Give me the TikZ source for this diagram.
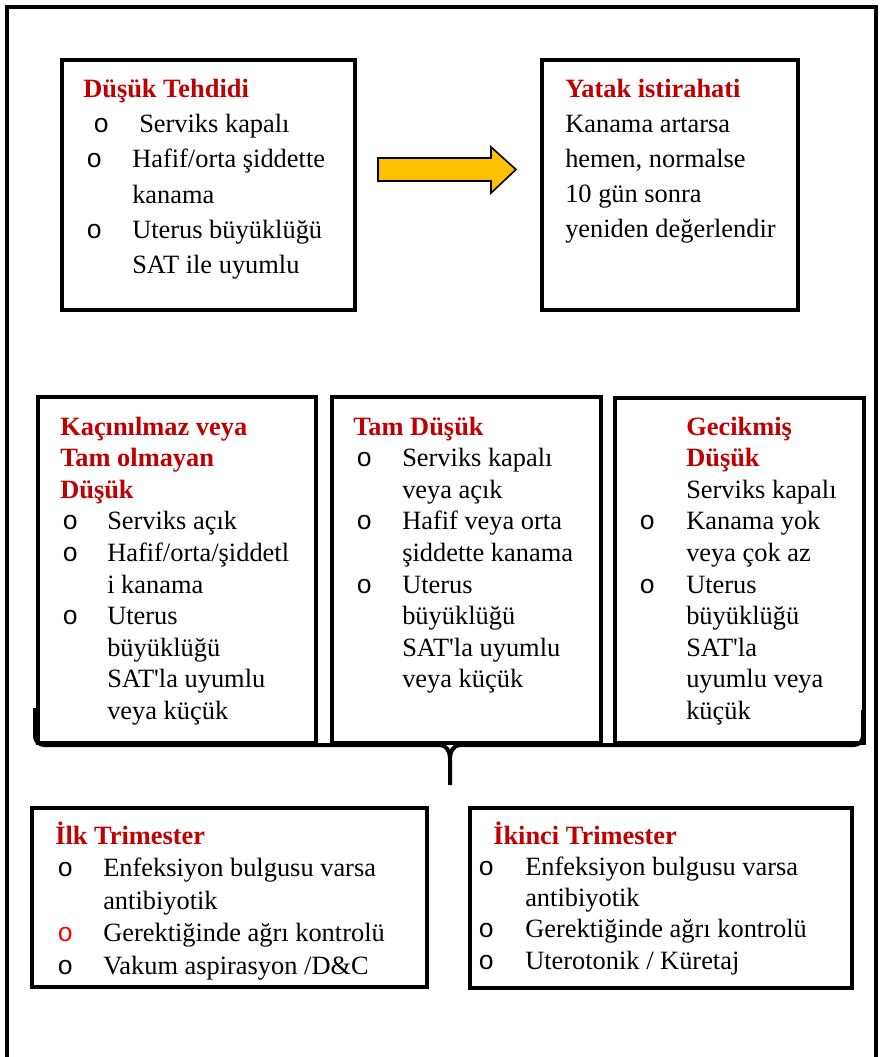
\documentclass[tikz,border=0pt]{standalone}
\usepackage{fontspec}
\setmainfont{Liberation Serif}
\newfontfamily\bulfont{Liberation Mono}
\usetikzlibrary{fit}
\definecolor{hdred}{HTML}{C00000}
\definecolor{arrowgold}{HTML}{FFC000}
% one drawing unit
\newdimen\px \px=0.75pt
% bullet offset and text offset inside a list
\newdimen\bo \newdimen\bx
\newcommand\hd[2][0]{\hspace*{#1\px}{\bfseries\color{hdred}#2}}
\newcommand\bi[2][black]{\makebox[\bx][l]{\hspace*{\bo}\textcolor{#1}{\bulfont o}}#2}
\newcommand\bix[3]{\makebox[#2\px][l]{\hspace*{#1\px}{\bulfont o}}#3}
\newcommand\ct[1]{\hspace*{\bx}#1}
\newcommand\boxtext[4]{\fontsize{19.8pt}{#1pt}\selectfont
  \bo=#2\px\relax \bx=#3\px\relax
  \begin{tabular}[t]{@{}l@{}}#4\end{tabular}}

\begin{document}
\begin{tikzpicture}[x=0.75pt,y=-0.75pt,
  box/.style={draw, line width=2.6pt, inner sep=0pt},
  txt/.style={anchor=base west, inner sep=0pt},
  frame/.style={line width=3pt},
  brace/.style={line width=3pt, line cap=butt},
  blockarrow/.style={fill=arrowgold, draw=black, line width=1.2pt, line join=miter}]

\useasboundingbox[fill=white] (0,0) rectangle (882,1057);

% outer frame, open at the bottom
\draw[frame] (6.5,1065) -- (6.5,7) -- (876,7) -- (876,1065);

% top row
\node[box, fit={(62,60) (355,310)}] (threat) {};
\node[box, fit={(542,60) (798,310)}] (rest) {};

\node[txt] (threattxt) at (83,97) {\boxtext{26.5}{3}{49}{%
  \hd{Düşük Tehdidi}\\
  \bix{10}{56}{Serviks kapalı}\\
  \bi{Hafif/orta şiddette}\\
  \ct{kanama}\\
  \bi{Uterus büyüklüğü}\\
  \ct{SAT ile uyumlu}}};

\node[txt] (resttxt) at (565,97) {\boxtext{26.3}{0}{0}{%
  \hd{Yatak istirahati}\\
  Kanama artarsa\\
  hemen, normalse\\
  10 gün sonra\\
  yeniden değerlendir}};

% block arrow between the top boxes
\draw[blockarrow] (378,158) -- (491,158) -- (491,147) -- (516,169.5)
  -- (491,193) -- (491,181) -- (378,181) -- cycle;

% middle row
\node[box, fit={(38,397) (316,743)}] (inev) {};
\node[box, fit={(332,397) (601,743)}] (compl) {};
\node[box, fit={(615,398) (864,743)}] (missed) {};

\node[txt] (inevtxt) at (60,435) {\boxtext{23.7}{2}{47}{%
  \hd{Kaçınılmaz veya}\\
  \hd{Tam olmayan}\\
  \hd{Düşük}\\
  \bi{Serviks açık}\\
  \bi{Hafif/orta/şiddetl}\\
  \ct{i kanama}\\
  \bi{Uterus}\\
  \ct{büyüklüğü}\\
  \ct{SAT\textquotesingle la uyumlu}\\
  \ct{veya küçük}}};

\node[txt] (compltxt) at (353,435) {\boxtext{23.7}{3}{49}{%
  \hd{Tam Düşük}\\
  \bi{Serviks kapalı}\\
  \ct{veya açık}\\
  \bi{Hafif veya orta}\\
  \ct{şiddette kanama}\\
  \bi{Uterus}\\
  \ct{büyüklüğü}\\
  \ct{SAT\textquotesingle la uyumlu}\\
  \ct{veya küçük}}};

\node[txt] (missedtxt) at (639,435) {\boxtext{23.7}{0}{47}{%
  \hd[47]{Gecikmiş}\\
  \hd[47]{Düşük}\\
  \ct{Serviks kapalı}\\
  \bi{Kanama yok}\\
  \ct{veya çok az}\\
  \bi{Uterus}\\
  \ct{büyüklüğü}\\
  \ct{SAT\textquotesingle la}\\
  \ct{uyumlu veya}\\
  \ct{küçük}}};

% brace gathering the middle row
\coordinate (tip) at (450,785);
\draw[brace] (35,708) -- (35,736) to[out=-90,in=180] (44,745) -- (440,745)
  to[out=0,in=90] (450,758) -- (tip);
\draw[brace] (450,758) to[out=90,in=180] (460,745) -- (854,745)
  to[out=0,in=-90] (863,736) -- (863,710);

% bottom row
\node[box, fit={(32,808) (427,987)}] (first) {};
\node[box, fit={(470,808) (852,988)}] (second) {};

\node[txt] (firsttxt) at (55,844) {\boxtext{24.4}{2}{48}{%
  \hd{İlk Trimester}\\
  \bi{Enfeksiyon bulgusu varsa}\\
  \ct{antibiyotik}\\
  \bi[red]{Gerektiğinde ağrı kontrolü}\\
  \bi{Vakum aspirasyon /D\&C}}};

\node[txt] (secondtxt) at (478,844) {\boxtext{23.45}{0}{47}{%
  \hd[15]{İkinci Trimester}\\
  \bi{Enfeksiyon bulgusu varsa}\\
  \ct{antibiyotik}\\
  \bi{Gerektiğinde ağrı kontrolü}\\
  \bi{Uterotonik / Küretaj}}};

\end{tikzpicture}
\end{document}
